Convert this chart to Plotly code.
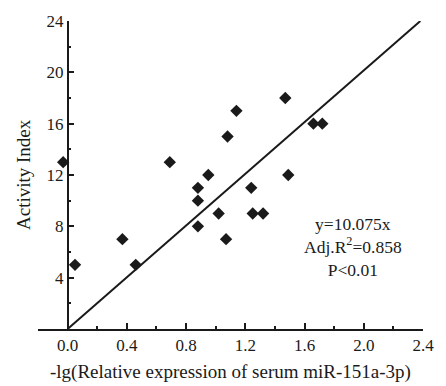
import plotly.graph_objects as go

x_vals = [-0.03, 0.05, 0.37, 0.46, 0.69, 0.88, 0.88, 0.88, 0.95, 1.02,
          1.07, 1.08, 1.14, 1.24, 1.25, 1.32, 1.47, 1.49, 1.66, 1.72]
y_vals = [13, 5, 7, 5, 13, 11, 10, 8, 12, 9,
          7, 15, 17, 11, 9, 9, 18, 12, 16, 16]
slope = 10.075
x_ticks = [0.0, 0.4, 0.8, 1.2, 1.6, 2.0, 2.4]
x_tick_text = ["0.0", "0.4", "0.8", "1.2", "1.6", "2.0", "2.4"]
y_ticks = [4, 8, 12, 16, 20, 24]
x_range = [-0.2, 2.4]
y_range = [0, 24]

FONT = "Liberation Serif"
C = "#1a1a1a"

fig = go.Figure()
fig.add_trace(go.Scatter(
    x=[0, y_range[1] / slope], y=[0, y_range[1]], mode="lines",
    line=dict(color=C, width=2), showlegend=False, hoverinfo="skip"))
fig.add_trace(go.Scatter(
    x=x_vals, y=y_vals, mode="markers",
    marker=dict(symbol="diamond", size=9.5, color=C, line=dict(width=0)),
    showlegend=False, cliponaxis=False))

L, R, T, B = 38, 21, 20, 57
W, H = 446, 386
ypos = (0 - x_range[0]) / (x_range[1] - x_range[0])

fig.update_layout(
    width=W, height=H,
    margin=dict(l=L, r=R, t=T, b=B),
    paper_bgcolor="white", plot_bgcolor="white",
    font=dict(family=FONT, size=17, color=C),
    xaxis=dict(range=x_range, tickvals=x_ticks, ticktext=x_tick_text,
               ticks="inside", ticklen=6, tickwidth=1.5, tickcolor=C,
               showline=True, linecolor=C, linewidth=1.5,
               showgrid=False, zeroline=False,
               minor=dict(ticks="inside", ticklen=3, tickwidth=1.5, tickcolor=C,
                          tick0=0, dtick=0.2, showgrid=False),
               tickfont=dict(family=FONT, size=17, color=C)),
    yaxis=dict(range=y_range, tickvals=y_ticks,
               anchor="free", position=ypos,
               ticks="inside", ticklen=6, tickwidth=1.5, tickcolor=C,
               showline=True, linecolor=C, linewidth=1.5,
               showgrid=False, zeroline=False,
               minor=dict(ticks="inside", ticklen=3, tickwidth=1.5, tickcolor=C,
                          tick0=0, dtick=2, showgrid=False),
               tickfont=dict(family=FONT, size=17, color=C)),
    annotations=[
        dict(text="-lg(Relative expression of serum miR-151a-3p)",
             xref="paper", yref="paper", x=0.5, y=0, yshift=-43,
             xanchor="center", yanchor="middle", showarrow=False,
             font=dict(family=FONT, size=19, color=C)),
        dict(text="Activity Index", xref="paper", yref="paper",
             x=0, xshift=-15, y=0.5, textangle=-90,
             xanchor="center", yanchor="middle", showarrow=False,
             font=dict(family=FONT, size=19, color=C)),
        dict(text="y=10.075x<br>Adj.R<sup>2</sup>=0.858<br>P<0.01",
             xref="x", yref="y", x=1.93, y=6.4,
             xanchor="center", yanchor="middle", showarrow=False, align="center",
             font=dict(family=FONT, size=17.5, color=C)),
    ],
)

fig.write_html("out.html")
